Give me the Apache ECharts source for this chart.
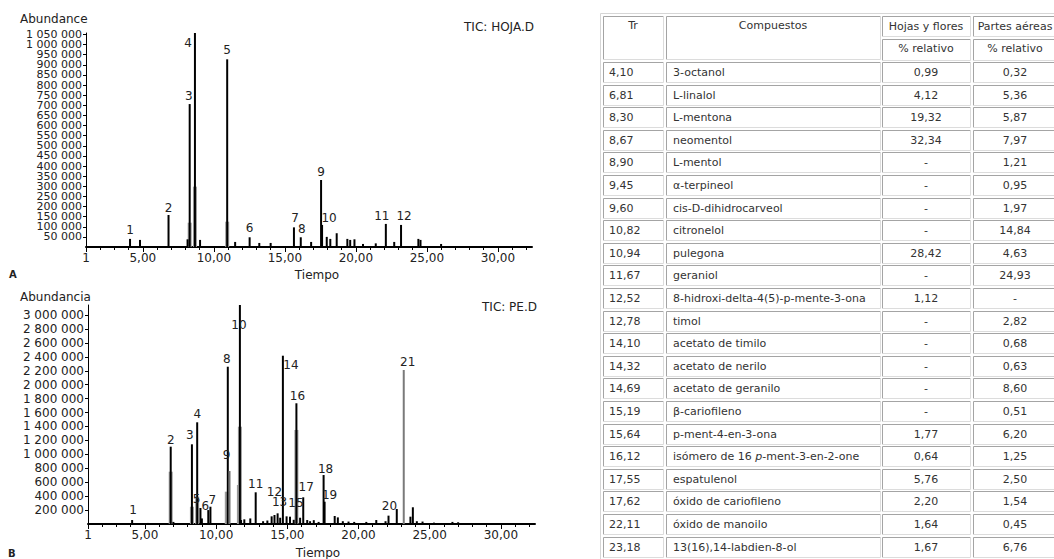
<!DOCTYPE html>
<html>
<head>
<meta charset="utf-8">
<title>TIC HOJA.D / PE.D</title>
<script src="https://cdn.jsdelivr.net/npm/echarts@6/dist/echarts.min.js"></script>
<style>
  html, body { margin: 0; padding: 0; background: #fff; }
  #main { width: 1054px; height: 559px; }
</style>
</head>
<body>
<div id="main"></div>
<script>
// ---- A: hojas y flores (TIC: HOJA.D)
var hojaPeakNo = [1, 2, 3, 4, 5, 6, 7, 8, 9, 10, 11, 12];
var hojaPeakTime = [4.10, 6.81, 8.30, 8.67, 10.94, 12.52, 15.64, 16.12, 17.55, 17.62, 22.11, 23.18];
var hojaPeakHeight = [40000, 158000, 706000, 1057000, 927000, 48000, 97000, 48000, 331000, 109000, 114000, 109000];
var hojaMinorTime = [4.8, 8.15, 9.03, 11.5, 13.2, 14.0, 16.85, 17.95, 18.2, 18.65, 19.4, 19.6, 19.9, 20.5, 21.4, 22.7, 24.4, 24.55, 26.0];
var hojaMinorHeight = [35000, 38000, 35000, 25000, 20000, 20000, 25000, 50000, 40000, 68000, 40000, 35000, 38000, 15000, 18000, 25000, 40000, 35000, 15000];
var hojaBaseTime = [8.30, 8.67, 10.94];
var hojaBaseHeight = [120000, 298000, 125000];
// tick labels split in two interleaved sets so the library never drops one
var hojaAbundTicksOdd = [50000, 150000, 250000, 350000, 450000, 550000, 650000, 750000, 850000, 950000, 1050000];
var hojaAbundTicksEven = [100000, 200000, 300000, 400000, 500000, 600000, 700000, 800000, 900000, 1000000];

// ---- B: partes aereas (TIC: PE.D)
var pePeakNo = [1, 2, 3, 4, 5, 6, 7, 8, 9, 10, 11, 12, 13, 14, 15, 16, 17, 18, 19, 20, 21];
var pePeakTime = [4.10, 6.81, 8.30, 8.67, 8.90, 9.45, 9.60, 10.82, 10.94, 11.67, 12.78,
  14.10, 14.32, 14.69, 15.19, 15.64, 16.12, 17.55, 17.62, 22.11, 23.18];
var pePeakHeight = [57000, 1110000, 1144000, 1460000, 230000, 200000, 248000, 2258000, 761000, 3144000, 455000,
  129000, 153000, 2416000, 105000, 1733000, 383000, 703000, 320000, 120000, 2211000];
var peMinorTime = [5.2, 7.0, 9.0, 11.75, 11.98, 12.4, 13.3, 13.6, 13.9, 14.5, 14.95, 15.45, 15.9, 16.4, 16.6,
  16.86, 17.2, 18.33, 18.55, 18.9, 19.3, 19.7, 20.55, 21.25, 21.9, 22.69, 23.65, 23.82, 24.1, 24.5, 25.3, 26.6, 27.0];
var peMinorHeight = [15000, 30000, 80000, 57000, 67000, 80000, 40000, 50000, 110000, 90000, 110000, 60000, 90000, 57000, 40000,
  55000, 30000, 115000, 95000, 40000, 35000, 30000, 30000, 57000, 40000, 215000, 105000, 240000, 40000, 35000, 20000, 30000, 25000];
var peBaseTime = [6.81, 8.30, 8.67, 10.75, 11.60, 11.67, 15.64];
var peBaseHeight = [751000, 248000, 392000, 464000, 560000, 1397000, 1350000];
var peAbundTicks = [200000, 400000, 600000, 800000, 1000000, 1200000, 1400000, 1600000, 1800000, 2000000,
  2200000, 2400000, 2600000, 2800000, 3000000];

var timeLabels = [1, 5, 10, 15, 20, 25, 30];
var timeMinor = [1, 2, 3, 4, 5, 6, 7, 8, 9, 10, 11, 12, 13, 14, 15, 16, 17, 18, 19, 20,
  21, 22, 23, 24, 25, 26, 27, 28, 29, 30, 31, 32];

// ---- tabla
var tr = [4.10, 6.81, 8.30, 8.67, 8.90, 9.45, 9.60, 10.82, 10.94, 11.67, 12.52,
  12.78, 14.10, 14.32, 14.69, 15.19, 15.64, 16.12, 17.55, 17.62, 22.11, 23.18];
var compuestos = ['3-octanol', 'L-linalol', 'L-mentona', 'neomentol', 'L-mentol', 'α-terpineol',
  'cis-D-dihidrocarveol', 'citronelol', 'pulegona', 'geraniol', '8-hidroxi-delta-4(5)-p-mente-3-ona',
  'timol', 'acetato de timilo', 'acetato de nerilo', 'acetato de geranilo', 'β-cariofileno',
  'p-ment-4-en-3-ona', 'isómero de 16 {i|p}-ment-3-en-2-one', 'espatulenol', 'óxido de cariofileno',
  'óxido de manoilo', '13(16),14-labdien-8-ol'];
var hojasFlores = [0.99, 4.12, 19.32, 32.34, null, null, null, null, 28.42, null, 1.12,
  null, null, null, null, null, 1.77, 0.64, 5.76, 2.20, 1.64, 1.67];
var partesAereas = [0.32, 5.36, 5.87, 7.97, 1.21, 0.95, 1.97, 14.84, 4.63, 24.93, null,
  2.82, 0.68, 0.63, 8.60, 0.51, 6.20, 1.25, 2.50, 1.54, 0.45, 6.76];

// label nudges per peak number, relative to the top of the peak
var hojaLabelShift = {1: [0, -2], 2: [0, 0], 3: [-1, -1], 4: [-7, 17], 5: [0, -2], 6: [0, -2],
  7: [1, -2], 8: [1, -1], 9: [0, -1], 10: [7, 0], 11: [-4, -1], 12: [3, -2]};
var peLabelShift = {1: [1, -3], 2: [0, 0], 3: [-2, -2], 4: [0, -1], 5: [-4, -2], 6: [-3, 3], 7: [2, 0],
  8: [-1, -1], 9: [-3, -9], 10: [-1, 27], 11: [0, -1], 12: [0, -16], 13: [2, -4], 14: [8, 16],
  15: [6, -7], 16: [1, 0], 17: [3, -3], 18: [2, 1], 19: [5, 0], 20: [1, -3], 21: [4, -1]};
var peColor = {9: '#707070', 21: '#7a7a7a'};

var font = 'DejaVu Sans';
var ink = '#222';

var fmtAbund = function (v) {
  return String(v).replace(/\B(?=(\d{3})+(?!\d))/g, ' ');
};
var fmtTime = function (v) {
  return v === 1 ? '1' : v.toFixed(2).replace('.', ',');
};
var fmtPct = function (v) {
  return v == null ? '-' : v.toFixed(2).replace('.', ',');
};

var peakData = function (no, time, height, shift, colors, minorTime, minorHeight) {
  var list = time.map(function (t, i) {
    var item = {
      value: [t, height[i]],
      label: { show: true, formatter: String(no[i]), offset: shift[no[i]] || [0, 0] }
    };
    if (colors[no[i]]) item.itemStyle = { color: colors[no[i]] };
    return item;
  });
  minorTime.forEach(function (t, i) {
    list.push({ value: [t, minorHeight[i]] });
  });
  return list;
};
var pairs = function (a, b) {
  return a.map(function (t, i) { return [t, b[i]]; });
};

var timeAxes = function (gridIndex) {
  return [{
    type: 'value', gridIndex: gridIndex, min: 1, max: 32.4, position: 'bottom',
    axisLine: { show: true, onZero: false, lineStyle: { color: '#000', width: 2 } },
    axisTick: { show: true, customValues: timeLabels, length: 5, lineStyle: { color: '#000' } },
    axisLabel: { customValues: timeLabels, formatter: fmtTime, margin: 5, color: ink,
      fontFamily: font, fontSize: 12, showMinLabel: true, showMaxLabel: true },
    splitLine: { show: false }
  }, {
    type: 'value', gridIndex: gridIndex, min: 1, max: 32.4, position: 'bottom',
    axisLine: { show: false, onZero: false },
    axisTick: { show: true, customValues: timeMinor, length: 3, lineStyle: { color: '#000' } },
    axisLabel: { show: false },
    splitLine: { show: false }
  }];
};
var abundAxis = function (gridIndex, max, ticks, size, showLine) {
  return {
    type: 'value', gridIndex: gridIndex, min: 0, max: max, position: 'left',
    axisLine: { show: showLine, onZero: false, lineStyle: { color: '#000', width: 1 } },
    axisTick: { show: true, customValues: ticks, length: 3, lineStyle: { color: '#000' } },
    axisLabel: { customValues: ticks, formatter: fmtAbund, margin: 4, color: ink, fontFamily: font,
      fontSize: size, hideOverlap: false },
    splitLine: { show: false }
  };
};
var peakLabel = { position: 'top', distance: 1, color: ink, fontFamily: font, fontSize: 12 };

// ---- table as graphic elements
var cellLeft = [603, 666, 882, 973];
var cellWidth = [60, 214, 88, 86];
var rowTop0 = 62, rowPitch = 22.6, rowHeight = 20;
var tableInk = '#333';

var cellFrame = function (x, y, w, h) {
  x = Math.round(x) + 0.5; y = Math.round(y) + 0.5; w = Math.round(w); h = Math.round(h);
  return [
    { type: 'rect', silent: true, shape: { x: x, y: y, width: w, height: h }, style: { fill: '#fff' } },
    { type: 'polyline', silent: true, shape: { points: [[x, y + h], [x, y], [x + w, y]] },
      style: { stroke: '#a4a4a4', lineWidth: 1, fill: null } },
    { type: 'polyline', silent: true, shape: { points: [[x + w, y], [x + w, y + h], [x, y + h]] },
      style: { stroke: '#dcdcdc', lineWidth: 1, fill: null } }
  ];
};
var cellText = function (text, x, y, align) {
  return {
    type: 'text', silent: true, x: x, y: y,
    style: {
      text: text, fontFamily: font, fontSize: 11, fill: tableInk, align: align, verticalAlign: 'middle',
      rich: { i: { fontStyle: 'italic', fontFamily: font, fontSize: 11, fill: tableInk } }
    }
  };
};

var table = [];
table.push({ type: 'rect', silent: true, shape: { x: 600.5, y: 13.5, width: 470, height: 560 },
  style: { fill: '#fff', stroke: '#d6d6d6', lineWidth: 1 } });
table = table.concat(cellFrame(cellLeft[0], 16, cellWidth[0], 43));
table = table.concat(cellFrame(cellLeft[1], 16, cellWidth[1], 43));
table = table.concat(cellFrame(cellLeft[2], 16, cellWidth[2], 20));
table = table.concat(cellFrame(cellLeft[3], 16, cellWidth[3], 20));
table = table.concat(cellFrame(cellLeft[2], 38.5, cellWidth[2], 21));
table = table.concat(cellFrame(cellLeft[3], 38.5, cellWidth[3], 21));
table.push(cellText('Tr', 633, 25.5, 'center'));
table.push(cellText('Compuestos', 773, 25.5, 'center'));
table.push(cellText('Hojas y flores', 926, 26, 'center'));
table.push(cellText('Partes aéreas', 1015, 26, 'center'));
table.push(cellText('% relativo', 926, 48, 'center'));
table.push(cellText('% relativo', 1015, 48, 'center'));

tr.forEach(function (t, i) {
  var top = rowTop0 + i * rowPitch;
  for (var c = 0; c < 4; c++) {
    table = table.concat(cellFrame(cellLeft[c], top, cellWidth[c], rowHeight));
  }
  var mid = top + rowHeight / 2 + 0.5;
  table.push(cellText(fmtPct(t), 609, mid, 'left'));
  table.push(cellText(compuestos[i], 673, mid, 'left'));
  table.push(cellText(fmtPct(hojasFlores[i]), 926, mid, 'center'));
  table.push(cellText(fmtPct(partesAereas[i]), 1015, mid, 'center'));
});

var freeText = function (text, x, y, align, weight, size) {
  return {
    type: 'text', silent: true, x: x, y: y,
    style: { text: text, fontFamily: font, fontSize: size || 12, fontWeight: weight || 'normal',
      fill: ink, align: align, verticalAlign: 'middle' }
  };
};
var notes = [
  freeText('Abundance', 20, 19, 'left'),
  freeText('TIC: HOJA.D', 534, 27, 'right'),
  freeText('Tiempo', 317, 275, 'center'),
  freeText('A', 9, 274, 'left', 'bold', 10),
  freeText('Abundancia', 20, 297, 'left'),
  freeText('TIC: PE.D', 537, 307, 'right'),
  freeText('Tiempo', 318, 553, 'center'),
  freeText('B', 8, 553, 'left', 'bold', 10)
];

var chart = echarts.init(document.getElementById('main'), null, { renderer: 'svg' });
chart.setOption({
  animation: false,
  backgroundColor: '#fff',
  grid: [
    { left: 86, top: 33, width: 446, height: 214 },
    { left: 88, top: 305, width: 447, height: 219 }
  ],
  xAxis: timeAxes(0).concat(timeAxes(1)),
  yAxis: [
    abundAxis(0, 1057000, hojaAbundTicksOdd, 11, true),
    abundAxis(0, 1057000, hojaAbundTicksEven, 11, false),
    abundAxis(1, 3144000, peAbundTicks, 12, true)
  ],
  series: [{
    name: 'HOJA.D base', type: 'bar', xAxisIndex: 1, yAxisIndex: 0, z: 1, silent: true,
    barWidth: 4, itemStyle: { color: '#9a9a9a' },
    data: pairs(hojaBaseTime, hojaBaseHeight)
  }, {
    name: 'HOJA.D', type: 'bar', xAxisIndex: 0, yAxisIndex: 0, z: 2, silent: true,
    barWidth: 2, itemStyle: { color: '#000' }, label: peakLabel,
    data: peakData(hojaPeakNo, hojaPeakTime, hojaPeakHeight, hojaLabelShift, {}, hojaMinorTime, hojaMinorHeight)
  }, {
    name: 'PE.D base', type: 'bar', xAxisIndex: 3, yAxisIndex: 2, z: 1, silent: true,
    barWidth: 4, itemStyle: { color: '#9a9a9a' },
    data: pairs(peBaseTime, peBaseHeight)
  }, {
    name: 'PE.D', type: 'bar', xAxisIndex: 2, yAxisIndex: 2, z: 2, silent: true,
    barWidth: 2, itemStyle: { color: '#000' }, label: peakLabel,
    data: peakData(pePeakNo, pePeakTime, pePeakHeight, peLabelShift, peColor, peMinorTime, peMinorHeight)
  }],
  graphic: { elements: notes.concat(table) }
});
</script>
</body>
</html>
